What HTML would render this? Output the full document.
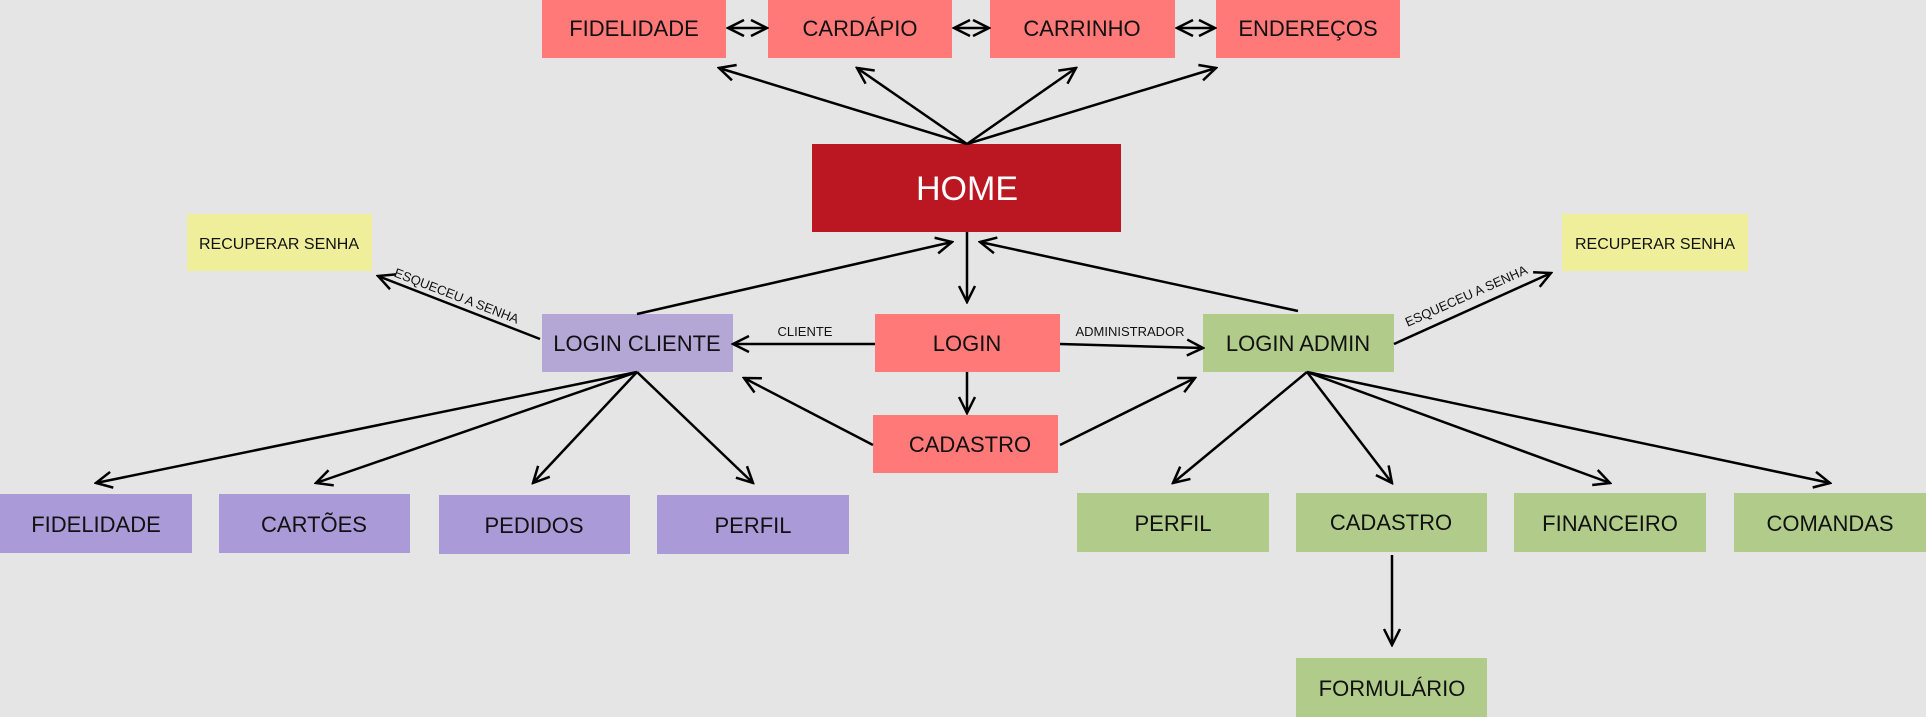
<!DOCTYPE html>
<html><head><meta charset="utf-8"><style>
html,body{margin:0;padding:0;background:#e5e5e5;}
svg{display:block;font-family:"Liberation Sans",Arial,sans-serif;}
</style></head><body>
<svg width="1926" height="717" viewBox="0 0 1926 717" xmlns="http://www.w3.org/2000/svg">
<defs>
<marker id="a" viewBox="0 0 20 20" refX="18" refY="10" markerWidth="20" markerHeight="20" markerUnits="userSpaceOnUse" orient="auto-start-reverse">
<path d="M2,2 L18,10 L2,18" fill="none" stroke="#000" stroke-width="2.5"/>
</marker>
</defs>
<rect width="1926" height="717" fill="#e5e5e5"/>
<g font-size="22" text-anchor="middle" fill="#111">
<!-- top row -->
<rect x="542" y="0" width="184" height="58" fill="#ff7979"/><text x="634" y="36">FIDELIDADE</text>
<rect x="768" y="0" width="184" height="58" fill="#ff7979"/><text x="860" y="36">CARDÁPIO</text>
<rect x="990" y="0" width="185" height="58" fill="#ff7979"/><text x="1082" y="36">CARRINHO</text>
<rect x="1216" y="0" width="184" height="58" fill="#ff7979"/><text x="1308" y="36">ENDEREÇOS</text>
<!-- home -->
<rect x="812" y="144" width="309" height="88" fill="#ba1722"/><text x="967" y="200" font-size="34" fill="#fff">HOME</text>
<!-- recuperar -->
<rect x="187" y="214" width="185" height="57" fill="#efee9a"/><text x="279" y="249" font-size="16">RECUPERAR SENHA</text>
<rect x="1562" y="214" width="186" height="57" fill="#efee9a"/><text x="1655" y="249" font-size="16">RECUPERAR SENHA</text>
<!-- login row -->
<rect x="542" y="314" width="191" height="58" fill="#b4a7d6"/><text x="637" y="351">LOGIN CLIENTE</text>
<rect x="875" y="314" width="185" height="58" fill="#ff7979"/><text x="967" y="351">LOGIN</text>
<rect x="1203" y="314" width="191" height="58" fill="#b0cb8a"/><text x="1298" y="351">LOGIN ADMIN</text>
<rect x="873" y="415" width="185" height="58" fill="#ff7979"/><text x="970" y="452">CADASTRO</text>
<!-- purple row -->
<rect x="0" y="494" width="192" height="59" fill="#ab9ad8"/><text x="96" y="532">FIDELIDADE</text>
<rect x="219" y="494" width="191" height="59" fill="#ab9ad8"/><text x="314" y="532">CARTÕES</text>
<rect x="439" y="495" width="191" height="59" fill="#ab9ad8"/><text x="534" y="533">PEDIDOS</text>
<rect x="657" y="495" width="192" height="59" fill="#ab9ad8"/><text x="753" y="533">PERFIL</text>
<!-- green row -->
<rect x="1077" y="493" width="192" height="59" fill="#b0cb8a"/><text x="1173" y="531">PERFIL</text>
<rect x="1296" y="493" width="191" height="59" fill="#b0cb8a"/><text x="1391" y="530">CADASTRO</text>
<rect x="1514" y="493" width="192" height="59" fill="#b0cb8a"/><text x="1610" y="531">FINANCEIRO</text>
<rect x="1734" y="493" width="192" height="59" fill="#b0cb8a"/><text x="1830" y="531">COMANDAS</text>
<rect x="1296" y="658" width="191" height="59" fill="#b0cb8a"/><text x="1392" y="696">FORMULÁRIO</text>
</g>
<g stroke="#000" stroke-width="2.5" fill="none" marker-end="url(#a)">
<line x1="967" y1="144" x2="719" y2="68"/>
<line x1="967" y1="144" x2="857" y2="68"/>
<line x1="967" y1="144" x2="1076" y2="68"/>
<line x1="967" y1="144" x2="1216" y2="68"/>
<line x1="728" y1="28" x2="767" y2="28" marker-start="url(#a)"/>
<line x1="954" y1="28" x2="989" y2="28" marker-start="url(#a)"/>
<line x1="1177" y1="28" x2="1215" y2="28" marker-start="url(#a)"/>
<line x1="637" y1="314" x2="952" y2="242"/>
<line x1="1298" y1="311" x2="980" y2="242"/>
<line x1="967" y1="232" x2="967" y2="302"/>
<line x1="875" y1="344" x2="733" y2="344"/>
<line x1="1060" y1="344" x2="1203" y2="348"/>
<line x1="967" y1="372" x2="967" y2="413"/>
<line x1="873" y1="445" x2="744" y2="378"/>
<line x1="1060" y1="445" x2="1195" y2="378"/>
<line x1="540" y1="339" x2="378" y2="276"/>
<line x1="1394" y1="344" x2="1551" y2="273"/>
<line x1="637" y1="372" x2="96" y2="483"/>
<line x1="637" y1="372" x2="316" y2="483"/>
<line x1="637" y1="372" x2="533" y2="483"/>
<line x1="637" y1="372" x2="753" y2="483"/>
<line x1="1307" y1="372" x2="1173" y2="483"/>
<line x1="1307" y1="372" x2="1392" y2="483"/>
<line x1="1307" y1="372" x2="1610" y2="483"/>
<line x1="1307" y1="372" x2="1830" y2="483"/>
<line x1="1392" y1="555" x2="1392" y2="645"/>
</g>
<g font-size="13" fill="#111" text-anchor="middle">
<text x="805" y="336">CLIENTE</text>
<text x="1130" y="336">ADMINISTRADOR</text>
<text x="0" y="0" transform="translate(455,300) rotate(21)">ESQUECEU A SENHA</text>
<text x="0" y="0" transform="translate(1468,300) rotate(-24)">ESQUECEU A SENHA</text>
</g>
</svg>
</body></html>
